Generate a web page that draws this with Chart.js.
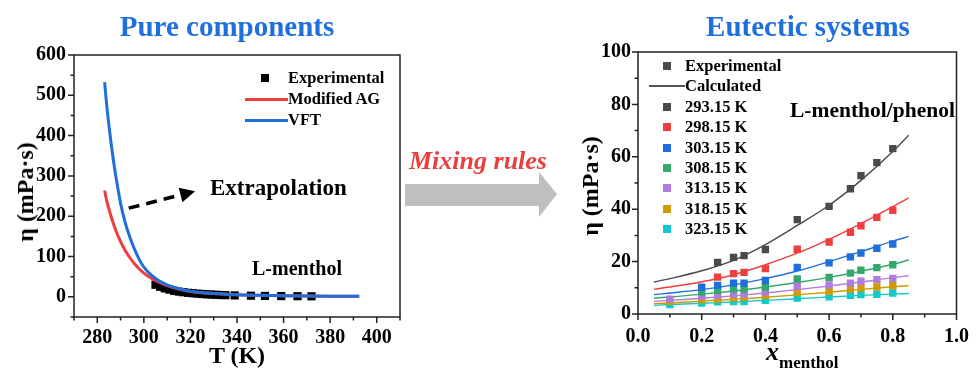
<!DOCTYPE html>
<html lang="en">
<head>
<meta charset="UTF-8">
<title>Viscosity: L-menthol and L-menthol/phenol</title>
<script src="https://cdn.jsdelivr.net/npm/chart.js"></script>
<style>
    body {
        margin: 0;
        width: 980px;
        height: 368px;
        position: relative;
        overflow: hidden;
        background: #fff;
        font-family: "Liberation Serif", "Times New Roman", serif;
        font-weight: bold;
        color: #000;
    }

    canvas {
        position: absolute;
        top: 0;
    }

    #leftChart { left: 0; }
    #rightChart { left: 570px; }

    .txt {
        position: absolute;
        white-space: nowrap;
        line-height: 1;
    }

    .title {
        color: #1f6fde;
        font-size: 29px;
        top: 12px;
        transform: translateX(-50%);
    }

    .mix {
        color: #e9403e;
        font-style: italic;
        font-size: 26px;
        left: 409px;
        top: 148px;
    }

    .ytitle {
        font-size: 24px;
        transform: translate(-50%, -50%) rotate(-90deg);
    }

    .leg {
        font-size: 16.5px;
    }

    .sw {
        position: absolute;
    }
</style>
</head>
<body>
    <canvas id="leftChart" width="410" height="368"></canvas>
    <canvas id="rightChart" width="410" height="368"></canvas>

    <div class="txt title" style="left:227px">Pure components</div>
    <div class="txt title" style="left:808px">Eutectic systems</div>

    <!-- arrow between the two panels -->
    <svg style="position:absolute;left:400px;top:168px" width="165" height="56">
        <polygon points="5,16 139,16 139,4 157,26 139,49 139,38 5,38" fill="#bfbfbf"/>
    </svg>
    <div class="txt mix">Mixing rules</div>

    <div class="txt" style="left:210px;top:176px;font-size:23px">Extrapolation</div>
    <div class="txt" style="left:252px;top:258px;font-size:20px">L-menthol</div>
    <div class="txt" style="left:790px;top:100px;font-size:21.5px">L-menthol/phenol</div>

    <div class="txt" style="left:237px;top:343px;font-size:24px;transform:translateX(-50%)">T (K)</div>
    <div class="txt ytitle" style="left:25px;top:192px">η (mPa·s)</div>
    <div class="txt ytitle" style="left:590px;top:186px">η (mPa·s)</div>
    <div class="txt" style="left:766px;top:339px;font-size:26px"><i style="font-family:'Liberation Serif'">x</i><span style="font-size:17px;position:relative;top:8px">menthol</span></div>

    <div id="legends"></div>

<script>
    // ---- left panel: pure L-menthol ----
    const vftT = [283.15, 284, 285, 286, 287, 288, 290, 292, 294, 296, 298, 300, 303, 306, 310, 315, 320, 330, 340, 350, 360, 370, 380, 392.5];
    const vftEta = [533, 478, 425, 378, 335, 298, 232, 184, 148, 118, 93, 74, 55, 42, 30, 20, 14, 8.5, 5.5, 3.8, 2.8, 2.1, 1.7, 1.3];

    const agT = [283.15, 284, 285, 286, 288, 290, 292, 294, 296, 298, 300, 303, 306, 310, 315, 320, 330, 340, 350, 360, 370, 380, 392.5];
    const agEta = [264, 240, 218, 198, 164, 137, 115, 97, 82, 69, 59, 47, 38, 28, 19.5, 13.5, 8.2, 5.3, 3.7, 2.7, 2.0, 1.6, 1.3];

    const expT = [305, 307, 309, 311, 313, 315, 317, 319, 321, 323, 325, 327, 329, 331, 333, 335, 339, 346, 352, 359, 366, 372];
    const expEta = [30, 25, 21, 18, 15, 13, 11.5, 10, 9, 8, 7, 6.3, 5.7, 5.1, 4.6, 4.2, 3.5, 2.8, 2.3, 1.9, 1.6, 1.3];

    // dashed "extrapolation" arrow, in data units (T, eta)
    const extraArrow = [[293.5, 220], [322, 262]];

    // ---- right panel: L-menthol/phenol ----
    const xExp = [0.1, 0.2, 0.25, 0.3, 0.333, 0.4, 0.5, 0.6, 0.667, 0.7, 0.75, 0.8];
    const xCalc = [0.05, 0.1, 0.2, 0.3, 0.4, 0.5, 0.6, 0.7, 0.8, 0.85];
    const temps = ['293.15 K', '298.15 K', '303.15 K', '308.15 K', '313.15 K', '318.15 K', '323.15 K'];
    const tempColors = ['#4a4a4a', '#ef3e3e', '#1e6fdc', '#34a86a', '#b07ddf', '#cf9a03', '#0fcaca'];

    const etaExp = [
        [null, null, 19.7, 21.6, 22.3, 24.6, 36.0, 41.1, 47.8, 52.8, 57.8, 63.1],
        [null, null, 14.1, 15.4, 15.9, 17.3, 24.7, 27.5, 31.2, 33.7, 36.9, 39.6],
        [null, 10.2, 10.9, 11.8, 11.8, 12.8, 17.8, 19.5, 21.8, 23.3, 25.1, 26.7],
        [null, 8.4, 9.0, 9.5, 9.5, 10.3, 13.4, 14.0, 15.6, 16.7, 17.7, 18.8],
        [5.7, 6.7, 7.1, 7.6, 7.6, 8.4, 10.6, 11.1, 11.8, 12.5, 13.1, 13.6],
        [4.8, 5.5, 5.7, 6.2, 6.4, 7.0, 8.3, 8.7, 9.5, 9.9, 10.3, 10.8],
        [3.6, 4.2, 4.6, 4.7, 4.7, 5.2, 6.1, 6.6, 7.1, 7.4, 7.5, 8.0]
    ];
    const etaCalc = [
        [12.2, 13.5, 16.5, 20.5, 26.5, 33.8, 41.5, 51.0, 62.0, 68.2],
        [9.5, 10.3, 12.3, 15.0, 18.8, 23.2, 28.5, 34.5, 41.0, 44.3],
        [7.4, 8.0, 9.3, 11.1, 13.5, 16.4, 20.0, 23.8, 27.8, 29.6],
        [6.1, 6.5, 7.6, 8.8, 10.3, 12.0, 14.0, 16.3, 19.0, 20.6],
        [4.8, 5.2, 6.0, 6.9, 8.0, 9.3, 10.7, 12.2, 13.9, 14.6],
        [3.9, 4.2, 4.9, 5.6, 6.4, 7.3, 8.3, 9.4, 10.4, 10.8],
        [3.3, 3.6, 4.1, 4.6, 5.2, 5.8, 6.5, 7.1, 7.6, 7.8]
    ];

    const RED = '#ef3e3e';
    const BLUE = '#1e6fdc';
    const FONT = 'Liberation Serif';

    const pts = (xs, ys) => xs.map((x, i) => ({ x: x, y: ys[i] }));

    // frame box + outward major/minor ticks
    const frame = {
        id: 'frame',
        afterDraw(chart) {
            const { ctx, chartArea: a, scales } = chart;
            ctx.save();
            ctx.strokeStyle = '#222';
            ctx.lineWidth = 1.5;
            ctx.strokeRect(a.left, a.top, a.right - a.left, a.bottom - a.top);
            ctx.beginPath();
            scales.x.ticks.forEach(t => {
                const px = scales.x.getPixelForValue(t.value);
                const len = t.label !== '' ? 6 : 3.5;
                ctx.moveTo(px, a.bottom);
                ctx.lineTo(px, a.bottom + len);
            });
            scales.y.ticks.forEach(t => {
                const py = scales.y.getPixelForValue(t.value);
                const len = t.label !== '' ? 6 : 3.5;
                ctx.moveTo(a.left, py);
                ctx.lineTo(a.left - len, py);
            });
            ctx.stroke();
            ctx.restore();
        }
    };

    const arrowPlugin = {
        id: 'arrow',
        afterDatasetsDraw(chart) {
            const { ctx, scales } = chart;
            const x0 = scales.x.getPixelForValue(extraArrow[0][0]);
            const y0 = scales.y.getPixelForValue(extraArrow[0][1]);
            const x1 = scales.x.getPixelForValue(extraArrow[1][0]);
            const y1 = scales.y.getPixelForValue(extraArrow[1][1]);
            const ang = Math.atan2(y1 - y0, x1 - x0);
            const head = 15;
            const bx = x1 - head * Math.cos(ang), by = y1 - head * Math.sin(ang);
            ctx.save();
            ctx.strokeStyle = '#000';
            ctx.lineWidth = 3.5;
            ctx.setLineDash([11, 7]);
            ctx.beginPath();
            ctx.moveTo(x0, y0);
            ctx.lineTo(bx, by);
            ctx.stroke();
            ctx.setLineDash([]);
            ctx.fillStyle = '#000';
            ctx.beginPath();
            ctx.moveTo(x1, y1);
            ctx.lineTo(bx + 7.5 * Math.sin(ang), by - 7.5 * Math.cos(ang));
            ctx.lineTo(bx - 7.5 * Math.sin(ang), by + 7.5 * Math.cos(ang));
            ctx.closePath();
            ctx.fill();
            ctx.restore();
        }
    };

    function axisOpts(min, max, step, major, decimals, fit) {
        return {
            type: 'linear',
            min: min,
            max: max,
            grid: { display: false, drawTicks: false },
            border: { display: false },
            afterFit: fit,
            ticks: {
                stepSize: step,
                autoSkip: false,
                maxRotation: 0,
                color: '#000',
                font: { family: FONT, size: 20, weight: 'bold' },
                callback: v => {
                    const r = v / major;
                    if (Math.abs(r - Math.round(r)) > 1e-6 || v < 0) return '';
                    return v.toFixed(decimals);
                }
            }
        };
    }

    // left chart
    const leftX = axisOpts(270, 410, 10, 20, 0, s => { s.height = 51; });
    leftX.ticks.padding = 9;
    leftX.ticks.callback = v => (v % 20 === 0 && v >= 280 && v <= 400) ? String(v) : '';
    const leftY = axisOpts(-50, 600, 50, 100, 0, s => { s.width = 74; });
    leftY.ticks.padding = 8;

    new Chart(document.getElementById('leftChart'), {
        type: 'scatter',
        data: {
            datasets: [
                {
                    label: 'VFT', data: pts(vftT, vftEta), showLine: true, order: 0,
                    borderColor: BLUE, borderWidth: 3, pointRadius: 0, cubicInterpolationMode: 'monotone'
                },
                {
                    label: 'Modified AG', data: pts(agT, agEta), showLine: true, order: 1,
                    borderColor: RED, borderWidth: 3, pointRadius: 0, cubicInterpolationMode: 'monotone'
                },
                {
                    label: 'Experimental', data: pts(expT, expEta), order: 2,
                    pointStyle: 'rect', pointRadius: 5.8, backgroundColor: '#000', borderWidth: 0
                }
            ]
        },
        options: {
            responsive: false,
            animation: false,
            layout: { padding: { left: 0, top: 55, right: 10, bottom: 0 } },
            plugins: { legend: { display: false }, tooltip: { enabled: false } },
            scales: { x: leftX, y: leftY }
        },
        plugins: [frame, arrowPlugin]
    });

    // right chart
    const rightX = axisOpts(0, 1.0, 0.1, 0.2, 1, s => { s.height = 54; });
    rightX.ticks.padding = 11;
    const rightY = axisOpts(0, 100, 10, 20, 0, s => { s.width = 68; });
    rightY.ticks.padding = 7;

    const rightSets = [];
    temps.forEach((t, i) => {
        rightSets.push({
            label: t, data: pts(xExp, etaExp[i]), order: 0,
            pointStyle: 'rect', pointRadius: 5.2, backgroundColor: tempColors[i], borderWidth: 0
        });
        rightSets.push({
            label: t + ' calc', data: pts(xCalc, etaCalc[i]), showLine: true, order: 1,
            borderColor: tempColors[i], borderWidth: 1.4, pointRadius: 0, cubicInterpolationMode: 'monotone'
        });
    });

    new Chart(document.getElementById('rightChart'), {
        type: 'scatter',
        data: { datasets: rightSets },
        options: {
            responsive: false,
            animation: false,
            layout: { padding: { left: 0, top: 52, right: 12, bottom: 0 } },
            plugins: { legend: { display: false }, tooltip: { enabled: false } },
            scales: { x: rightX, y: rightY }
        },
        plugins: [frame]
    });

    // legends (html, built from the series names/colours)
    const legendBox = document.getElementById('legends');
    function addLegend(kind, color, label, cx, cy, textLeft, lineFrom) {
        const sw = document.createElement('div');
        sw.className = 'sw';
        if (kind === 'square') {
            sw.style.cssText = `left:${cx - 4}px;top:${cy - 4}px;width:8px;height:8px;background:${color}`;
        } else {
            const h = kind === 'thin' ? 1.3 : 3;
            sw.style.cssText = `left:${lineFrom}px;top:${cy - h / 2}px;width:${textLeft - lineFrom}px;height:${h}px;background:${color}`;
        }
        legendBox.appendChild(sw);
        const tx = document.createElement('div');
        tx.className = 'txt leg';
        tx.style.left = textLeft + 'px';
        tx.style.top = (cy - 8) + 'px';
        tx.textContent = label;
        legendBox.appendChild(tx);
    }

    addLegend('square', '#000', 'Experimental', 265, 78, 288);
    addLegend('thick', RED, 'Modified AG', 0, 99, 288, 245);
    addLegend('thick', BLUE, 'VFT', 0, 120, 288, 245);

    addLegend('square', tempColors[0], 'Experimental', 667, 66, 685);
    addLegend('thin', '#555', 'Calculated', 0, 86, 685, 649);
    temps.forEach((t, i) => addLegend('square', tempColors[i], t, 667, 107 + i * 20.3, 685));
</script>
</body>
</html>
